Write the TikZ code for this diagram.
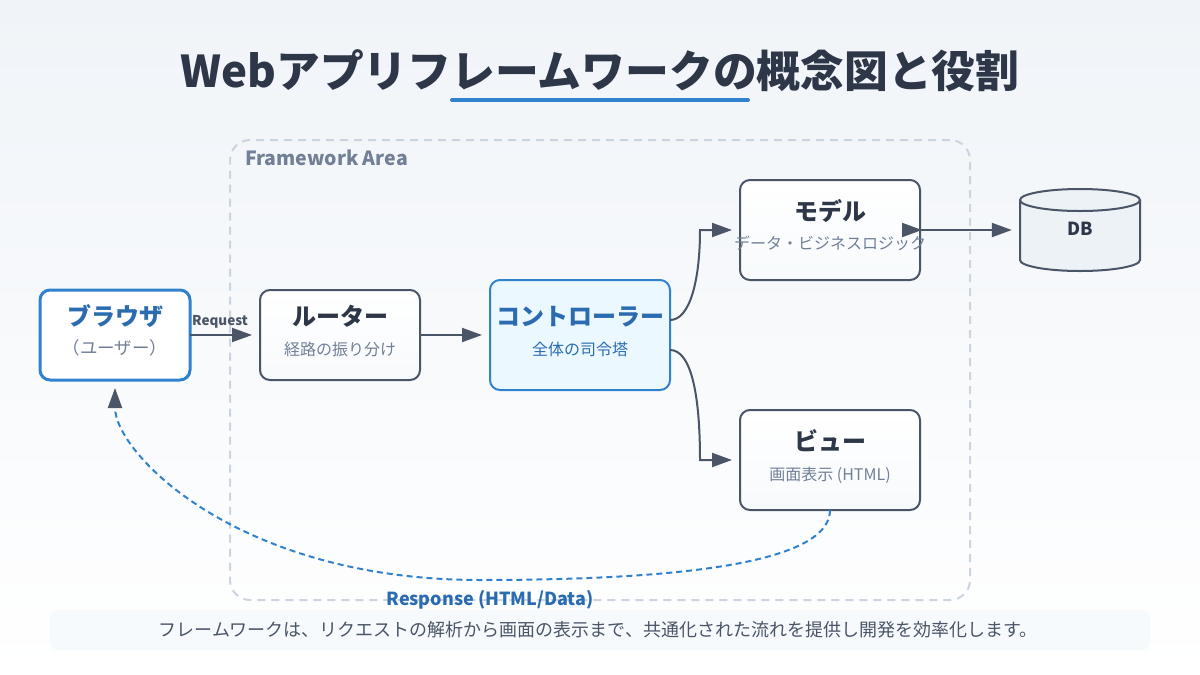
\documentclass[tikz,border=0pt]{standalone}
\usepackage{fontspec}
\setmainfont{Noto Sans CJK JP}
\usetikzlibrary{arrows.meta}
\definecolor{inkdark}{HTML}{2D3748}
\definecolor{boxline}{HTML}{4A5568}
\definecolor{subgray}{HTML}{718096}
\definecolor{arealine}{HTML}{CBD5E0}
\definecolor{bluemain}{HTML}{3182CE}
\definecolor{bluetext}{HTML}{2B6CB0}
\definecolor{bgtop}{HTML}{F0F4F8}
\definecolor{boxbottom}{HTML}{F7FAFC}
\definecolor{ctrlfill}{HTML}{EBF8FF}
\definecolor{dbfill}{HTML}{EDF2F7}
\tikzset{
    box/.style={rectangle, rounded corners=10pt, draw=boxline, line width=2pt, outer sep=0pt, inner sep=0pt, top color=white, bottom color=boxbottom},
    boxtitle/.style={anchor=base, font=\fontsize{24}{28}\selectfont\bfseries, text=inkdark, inner sep=0pt},
    boxsub/.style={anchor=base, font=\fontsize{16}{20}\selectfont, text=subgray, inner sep=0pt},
    flow/.style={draw=boxline, line width=2pt, -{Triangle[length=20pt,width=14pt]}, shorten >=8pt},
}
\begin{document}
\begin{tikzpicture}[x=1pt, y=-1pt]
    \useasboundingbox (0,0) rectangle (1200,675);
    % Background
    \shade[top color=bgtop, bottom color=white] (0,0) rectangle (1200,675);

    % Title
    \node[anchor=base, inner sep=0pt, font=\fontsize{43.8}{50}\selectfont\bfseries, text=inkdark] (title) at (600,87) {Webアプリフレームワークの概念図と役割};
    \coordinate (lineleft) at (452,100);
    \coordinate (lineright) at (748,100);
    \draw[bluemain, line width=4pt, line cap=round] (lineleft) -- (lineright);

    % Framework area
    \node[rectangle, rounded corners=20pt, draw=arealine, line width=2pt, dash pattern=on 8pt off 6pt, minimum width=740, minimum height=460, inner sep=0pt] (area) at (600,370) {};
    \node[anchor=base west, inner sep=0pt, font=\fontsize{19.5}{22}\selectfont\bfseries, text=subgray] (arealabel) at (245,165) {Framework Area};

    % Boxes
    \node[box, draw=bluemain, line width=3pt, top color=white, bottom color=white, minimum width=150, minimum height=90] (browser) at (115,335) {};
    \node[box, minimum width=160, minimum height=90] (router) at (340,335) {};
    \node[box, draw=bluemain, top color=ctrlfill, bottom color=ctrlfill, minimum width=180, minimum height=110] (controller) at (580,335) {};
    \node[box, minimum width=180, minimum height=100] (model) at (830,230) {};
    \node[box, minimum width=180, minimum height=100] (view) at (830,460) {};

    % Box texts
    \node[boxtitle, text=bluetext] (browsertitle) at (115,325) {ブラウザ};
    \node[boxsub, font=\fontsize{17.5}{20}\selectfont] (browsersub) at (115,354) {（ユーザー）};
    \node[boxtitle] (routertitle) at (340,325) {ルーター};
    \node[boxsub] (routersub) at (340,355) {経路の振り分け};
    \node[boxtitle, text=bluetext] (controllertitle) at (580,325) {コントローラー};
    \node[boxsub, text=bluetext] (controllersub) at (580,355) {全体の司令塔};
    \node[boxtitle] (modeltitle) at (830,220) {モデル};
    \node[boxsub] (modelsub) at (830,249) {データ・ビジネスロジック};
    \node[boxtitle] (viewtitle) at (830,450) {ビュー};
    \node[boxsub] (viewsub) at (830,480) {画面表示 (HTML)};

    % DB
    \draw[boxline, line width=2pt, fill=dbfill] (1020,200) -- (1020,260) arc[start angle=180, end angle=0, x radius=60, y radius=11] -- (1140,200);
    \draw[boxline, line width=2pt, fill=dbfill] (1080,200) ellipse[x radius=60, y radius=11];
    \node[minimum width=120, minimum height=60, inner sep=0pt, font=\fontsize{18}{22}\selectfont\bfseries, text=inkdark] (db) at (1080,230) {\raisebox{2pt}{DB}};

    % Connectors
    \draw[flow] (browser) -- (router);
    \draw[flow] (router) -- (controller);
    \draw[flow] ([yshift=15pt]controller.east) .. controls (690,320) and (700,280) .. (700,230) -- (model.west);
    \draw[flow] ([yshift=-15pt]controller.east) .. controls (690,350) and (700,390) .. (700,460) -- (view.west);
    \draw[flow, {Triangle[reversed,length=20pt,width=14pt]}-{Triangle[length=20pt,width=14pt]}, shorten <=-18pt] (model.east) -- (db.west);
    \draw[bluemain, line width=2pt, dash pattern=on 6pt off 4pt, -{Triangle[length=20pt,width=14pt,color=boxline,fill=boxline]}] (view.south) .. controls (830,557) and (713,580) .. (480,580) .. controls (237,580) and (115,453) .. ([yshift=-8pt]browser.south);

    % Connector labels
    \node[anchor=base, inner sep=0pt, font=\fontsize{13.5}{16}\selectfont\bfseries, text=boxline] (request) at (220,325) {Request};
    \node[anchor=base, inner sep=0pt, font=\fontsize{18}{22}\selectfont\bfseries, text=bluetext] (response) at (490,605) {Response (HTML/Data)};

    % Note
    \node[rectangle, rounded corners=8pt, fill=boxbottom, minimum width=1100, minimum height=40, inner sep=0pt] (note) at (600,630) {};
    \node[anchor=base, inner sep=0pt, font=\fontsize{18}{22}\selectfont, text=boxline] (notetext) at (598,636) {フレームワークは、リクエストの解析から画面の表示まで、共通化された流れを提供し開発を効率化します。};
\end{tikzpicture}
\end{document}
